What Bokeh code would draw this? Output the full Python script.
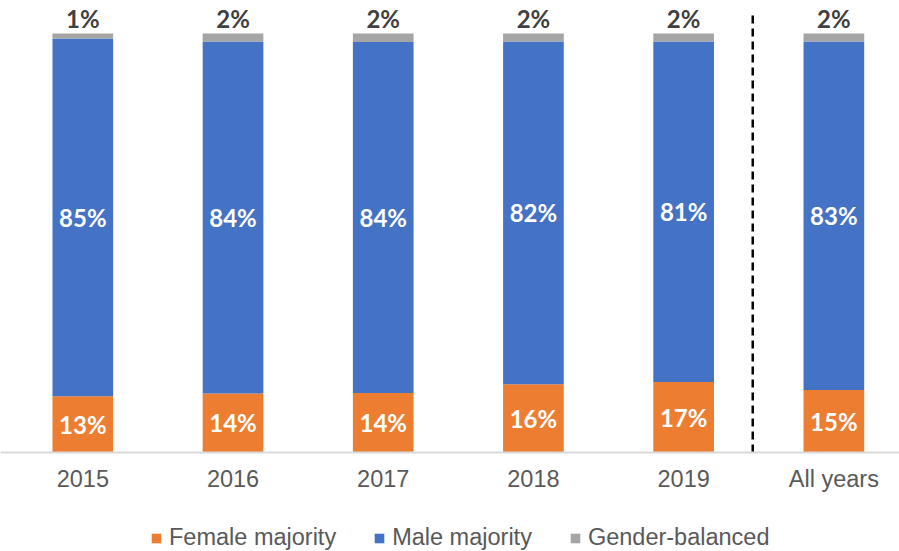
from bokeh.plotting import figure
from bokeh.models import ColumnDataSource, Range1d, FixedTicker, Legend, LegendItem
from bokeh.core.properties import value
from bokeh.embed import file_html
from bokeh.resources import INLINE

categories = ["2015", "2016", "2017", "2018", "2019", "All years"]
female = [13.4, 14.1, 14.2, 16.3, 16.8, 14.9]
male = [85.4, 84.0, 83.8, 81.8, 81.3, 83.2]
balanced = [1.2, 1.9, 2.0, 1.9, 1.9, 1.9]
series_names = ["Female majority", "Male majority", "Gender-balanced"]
colors = ["#ED7D31", "#4472C4", "#A5A5A5"]

x = [i + 0.5 for i in range(len(categories))]
female_mid = [f / 2 for f in female]
male_mid = [f + m / 2 for f, m in zip(female, male)]
tops = [f + m + b for f, m, b in zip(female, male, balanced)]

src = ColumnDataSource(dict(
    x=x, female=female, male=male, balanced=balanced,
    female_mid=female_mid, male_mid=male_mid, tops=tops,
    female_lbl=[f"{round(v)}%" for v in female],
    male_lbl=[f"{round(v)}%" for v in male],
    bal_lbl=[f"{round(v)}%" for v in balanced],
))

p = figure(width=899, height=551, x_range=Range1d(-0.048, 5.937),
           y_range=Range1d(-23.63, 107.88), min_border=0,
           toolbar_location=None, output_backend="svg",
           y_axis_location=None)
p.outline_line_color = None
p.xgrid.visible = False
p.ygrid.visible = False
p.background_fill_color = "white"

rs = p.vbar_stack(["female", "male", "balanced"], x="x", width=0.404,
                  source=src, color=colors, line_color=None)

# divider between yearly bars and the overall bar
p.segment(x0=[4.96], x1=[4.96], y0=[0], y1=[104.3], line_color="black",
          line_width=2.5, line_dash="8 5")

lbl_font = value("Lato")
p.text(x="x", y="female_mid", text="female_lbl", source=src, text_color="white",
       text_font=lbl_font, text_font_style="bold", text_font_size="24px",
       text_align="center", text_baseline="middle")
p.text(x="x", y="male_mid", text="male_lbl", source=src, text_color="white",
       text_font=lbl_font, text_font_style="bold", text_font_size="24px",
       text_align="center", text_baseline="middle")
p.text(x="x", y="tops", text="bal_lbl", source=src, text_color="#404040",
       text_font=lbl_font, text_font_style="bold", text_font_size="24px",
       text_align="center", text_baseline="bottom", y_offset=-1)

ax = p.xaxis[0]
ax.fixed_location = 0
ax.ticker = FixedTicker(ticks=x)
ax.major_label_overrides = {xi: c for xi, c in zip(x, categories)}
ax.major_tick_line_color = None
ax.minor_tick_line_color = None
ax.axis_line_color = "#D9D9D9"
ax.axis_line_width = 2
ax.major_label_standoff = 8
ax.major_label_text_font = "Liberation Sans"
ax.major_label_text_font_size = "23.5px"
ax.major_label_text_color = "#595959"

legend = Legend(items=[LegendItem(label=n, renderers=[r]) for n, r in zip(series_names, rs)],
                orientation="horizontal", location=(150, 0))
legend.border_line_color = None
legend.background_fill_alpha = 0
legend.padding = 0
legend.margin = 0
legend.spacing = 37
legend.glyph_width = 12
legend.glyph_height = 12
legend.label_standoff = 7
legend.label_text_font = "Liberation Sans"
legend.label_text_font_size = "23.5px"
legend.label_text_color = "#595959"
p.add_layout(legend, "center")

open("out.html", "w").write(file_html(p, INLINE))
